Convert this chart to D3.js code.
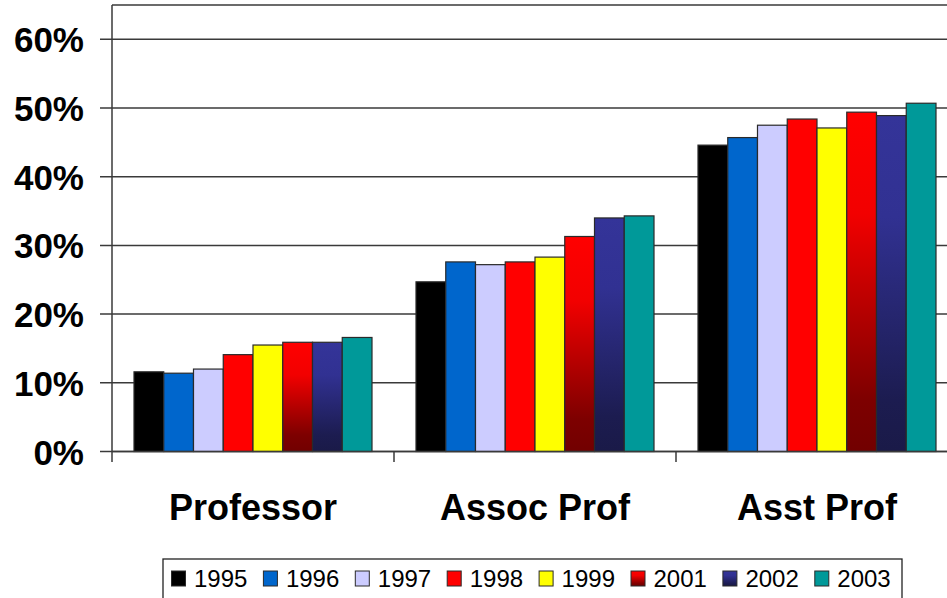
<!DOCTYPE html>
<html>
<head>
<meta charset="utf-8">
<script src="https://cdn.jsdelivr.net/npm/d3@7"></script>
<style>
  body { margin: 0; background: #fff; }
  svg { display: block; font-family: Arial, "Liberation Sans", sans-serif; }
</style>
</head>
<body>
<div id="chart"></div>
<script>
// Chart data
var categories = ["Professor", "Assoc Prof", "Asst Prof"];
var years = ["1995", "1996", "1997", "1998", "1999", "2001", "2002", "2003"];
var values = {
  "1995": [11.6, 24.7, 44.6],
  "1996": [11.4, 27.6, 45.7],
  "1997": [12.0, 27.2, 47.5],
  "1998": [14.1, 27.6, 48.4],
  "1999": [15.5, 28.3, 47.1],
  "2001": [15.9, 31.3, 49.4],
  "2002": [15.9, 34.0, 48.9],
  "2003": [16.6, 34.3, 50.7]
};
var yTicks = [0, 10, 20, 30, 40, 50, 60];

var svgWidth = 947;
var svgHeight = 598;

var svg = d3.select("#chart")
  .append("svg")
  .attr("width", svgWidth)
  .attr("height", svgHeight);

// gradients for 2001 and 2002
var defs = svg.append("defs");
var redGrad = defs.append("linearGradient")
  .attr("id", "grad2001").attr("x1", 0).attr("y1", 0).attr("x2", 0).attr("y2", 1);
redGrad.append("stop").attr("offset", "0%").attr("stop-color", "#ff0000");
redGrad.append("stop").attr("offset", "30%").attr("stop-color", "#f20000");
redGrad.append("stop").attr("offset", "85%").attr("stop-color", "#7d0000");
redGrad.append("stop").attr("offset", "100%").attr("stop-color", "#720000");

var blueGrad = defs.append("linearGradient")
  .attr("id", "grad2002").attr("x1", 0).attr("y1", 0).attr("x2", 0).attr("y2", 1);
blueGrad.append("stop").attr("offset", "0%").attr("stop-color", "#343499");
blueGrad.append("stop").attr("offset", "30%").attr("stop-color", "#313192");
blueGrad.append("stop").attr("offset", "85%").attr("stop-color", "#1c1c50");
blueGrad.append("stop").attr("offset", "100%").attr("stop-color", "#1a1a48");

var colors = {
  "1995": "#000000",
  "1996": "#0066cc",
  "1997": "#ccccff",
  "1998": "#ff0000",
  "1999": "#ffff00",
  "2001": "url(#grad2001)",
  "2002": "url(#grad2002)",
  "2003": "#009999"
};

// Scales
var x0 = d3.scaleBand()
  .domain(categories)
  .range([112, 958])
  .paddingInner(0.156)
  .paddingOuter(0.078);

var x1 = d3.scaleBand()
  .domain(years)
  .range([0, x0.bandwidth()]);

var y = d3.scaleLinear()
  .domain([0, 65])
  .range([451.5, 5]);

// Gridlines
svg.append("g")
  .selectAll("line")
  .data(yTicks)
  .enter()
  .append("line")
  .attr("x1", 100)
  .attr("x2", svgWidth)
  .attr("y1", d => y(d))
  .attr("y2", d => y(d))
  .attr("stroke", "#3a3a3a")
  .attr("stroke-width", 1.5);

// top border of plot area
svg.append("line")
  .attr("x1", 112).attr("x2", svgWidth)
  .attr("y1", y(65)).attr("y2", y(65))
  .attr("stroke", "#3a3a3a").attr("stroke-width", 1.5);

// Y axis labels
svg.append("g")
  .selectAll("text")
  .data(yTicks)
  .enter()
  .append("text")
  .attr("x", 84)
  .attr("y", d => y(d) + 13)
  .attr("text-anchor", "end")
  .style("font-size", "35px")
  .style("font-weight", "bold")
  .attr("fill", "#000")
  .text(d => d + "%");

// Bars
var groups = svg.append("g")
  .selectAll("g")
  .data(categories)
  .enter()
  .append("g")
  .attr("transform", d => `translate(${x0(d)},0)`);

groups.selectAll("rect")
  .data((c, i) => years.map(yr => ({ year: yr, value: values[yr][i] })))
  .enter()
  .append("rect")
  .attr("x", d => x1(d.year))
  .attr("y", d => y(d.value))
  .attr("width", x1.bandwidth())
  .attr("height", d => y(0) - y(d.value))
  .attr("fill", d => colors[d.year])
  .attr("stroke", "#2a2a2a")
  .attr("stroke-width", 1.2);

// Y axis line
svg.append("line")
  .attr("x1", 112).attr("x2", 112)
  .attr("y1", y(65)).attr("y2", 462)
  .attr("stroke", "#3a3a3a").attr("stroke-width", 1.5);

// X axis line and category ticks
svg.append("line")
  .attr("x1", 112).attr("x2", svgWidth)
  .attr("y1", y(0)).attr("y2", y(0))
  .attr("stroke", "#3a3a3a").attr("stroke-width", 1.5);

var step = x0.step();
svg.append("g")
  .selectAll("line")
  .data(categories)
  .enter()
  .append("line")
  .attr("x1", d => x0(d) - step * 0.078 + step)
  .attr("x2", d => x0(d) - step * 0.078 + step)
  .attr("y1", y(0))
  .attr("y2", 462)
  .attr("stroke", "#3a3a3a")
  .attr("stroke-width", 1.5);

// Category labels
svg.append("g")
  .selectAll("text")
  .data(categories)
  .enter()
  .append("text")
  .attr("x", d => x0(d) + x0.bandwidth() / 2)
  .attr("y", 520)
  .attr("text-anchor", "middle")
  .style("font-size", "36px")
  .style("font-weight", "bold")
  .attr("fill", "#000")
  .text(d => d);

// Legend
svg.append("rect")
  .attr("x", 163)
  .attr("y", 559)
  .attr("width", 739)
  .attr("height", 50)
  .attr("fill", "#fff")
  .attr("stroke", "#222")
  .attr("stroke-width", 1.3);

var legendItems = svg.append("g")
  .selectAll("g")
  .data(years)
  .enter()
  .append("g")
  .attr("transform", (d, i) => `translate(${171 + i * 91.9}, 0)`);

legendItems.append("rect")
  .attr("x", 0.5)
  .attr("y", 571)
  .attr("width", 14)
  .attr("height", 15)
  .attr("fill", d => colors[d])
  .attr("stroke", "#2a2a2a")
  .attr("stroke-width", 1);

legendItems.append("text")
  .attr("x", 23)
  .attr("y", 587)
  .style("font-size", "24px")
  .attr("fill", "#000")
  .text(d => d);
</script>
</body>
</html>
